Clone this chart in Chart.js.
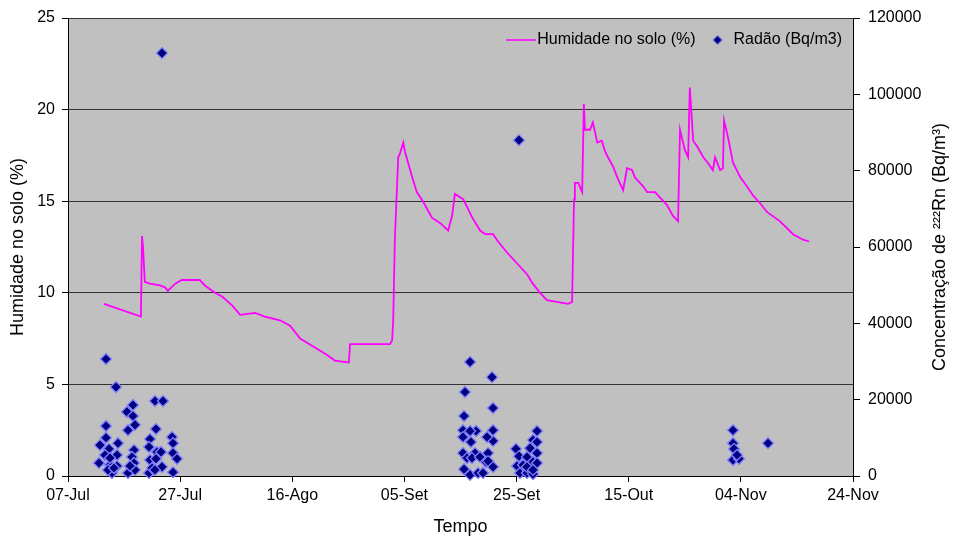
<!DOCTYPE html>
<html>
<head>
<meta charset="utf-8">
<script src="https://cdn.jsdelivr.net/npm/chart.js@4.4.1/dist/chart.umd.min.js"></script>
<style>
  html, body { margin: 0; padding: 0; background: #ffffff; }
  #wrap { width: 953px; height: 540px; }
</style>
</head>
<body>
<div id="wrap"><canvas id="c" width="953" height="540"></canvas></div>
<script>
// X tick labels (every 20 days starting 07-Jul)
const xTickLabels = ['07-Jul', '27-Jul', '16-Ago', '05-Set', '25-Set', '15-Out', '04-Nov', '24-Nov'];

// Soil humidity (%) — days since 07-Jul
const humDays = [6.4, 13.0, 13.2, 13.4, 13.7, 14.6, 16.4, 17.3, 17.8, 19.1, 20.3, 23.5, 24.4, 26.2, 27.5, 29.3, 30.7, 33.4, 35.1, 37.8, 39.6, 41.4, 44.1, 46.2, 47.6, 49.9, 50.1, 50.3, 53.9, 57.4, 57.8, 58.0, 58.3, 58.9, 59.2, 59.8, 60.1, 61.4, 62.2, 63.3, 64.9, 66.4, 67.8, 68.5, 69.0, 70.5, 72.1, 73.5, 74.4, 75.8, 76.7, 78.3, 80.1, 81.9, 82.9, 84.2, 85.4, 87.2, 89.2, 89.9, 90.25, 90.4, 91.0, 91.7, 92.0, 92.2, 93.1, 93.6, 94.4, 95.2, 95.8, 96.3, 97.2, 98.1, 99.0, 99.7, 100.6, 101.1, 102.6, 103.3, 104.7, 105.6, 106.8, 107.9, 108.8, 109.15, 110.0, 110.6, 110.9, 111.5, 112.2, 113.3, 114.1, 115.0, 115.4, 116.3, 116.8, 117.0, 117.7, 118.6, 119.9, 121.1, 122.2, 123.4, 124.7, 127.0, 129.3, 131.1, 132.2];
const humValues = [9.4, 8.7, 13.1, 12.4, 10.6, 10.5, 10.4, 10.3, 10.1, 10.5, 10.7, 10.7, 10.4, 10.0, 9.8, 9.3, 8.8, 8.9, 8.7, 8.5, 8.2, 7.5, 7.0, 6.6, 6.3, 6.2, 6.2, 7.2, 7.2, 7.2, 7.4, 8.5, 13.0, 17.4, 17.6, 18.2, 17.7, 16.3, 15.5, 15.0, 14.1, 13.8, 13.4, 14.2, 15.4, 15.1, 14.1, 13.4, 13.2, 13.2, 12.8, 12.2, 11.6, 11.0, 10.5, 10.0, 9.6, 9.5, 9.4, 9.5, 15.1, 16.0, 16.0, 15.5, 20.3, 18.9, 18.9, 19.3, 18.2, 18.3, 17.7, 17.4, 16.9, 16.2, 15.6, 16.8, 16.7, 16.3, 15.8, 15.5, 15.5, 15.2, 14.8, 14.2, 13.9, 18.9, 17.8, 17.4, 21.2, 18.3, 18.0, 17.4, 17.1, 16.7, 17.4, 16.7, 16.8, 19.4, 18.5, 17.1, 16.3, 15.8, 15.3, 14.9, 14.4, 13.9, 13.2, 12.9, 12.8];

// Radon (Bq/m3) — days since 07-Jul
const radonDays = [6.78, 8.56, 11.59, 10.52, 11.59, 11.95, 10.70, 6.78, 15.52, 16.94, 15.69, 6.78, 5.71, 7.31, 8.92, 6.60, 8.74, 5.53, 7.49, 8.74, 7.85, 11.77, 11.41, 11.77, 10.70, 11.95, 14.62, 14.45, 15.87, 16.59, 14.62, 15.69, 16.76, 14.45, 18.55, 18.73, 18.73, 19.44, 18.73, 7.13, 8.2, 15.0, 15.5, 11.06, 7.49, 16.76,
  71.70, 75.62, 70.80, 75.80, 70.63, 75.80, 75.80, 74.73, 72.77, 70.45, 71.70, 70.45, 71.87, 70.45, 72.59, 74.91, 71.16, 72.05, 73.48, 74.55, 70.63, 71.70, 73.13, 74.02, 75.80, 74.91, 80.43, 79.90, 80.43, 80.08, 80.61, 81.86, 82.93, 83.65, 82.93, 83.65, 82.40, 83.65, 81.86, 82.93, 83.65, 81.15, 81.86, 82.93,
  118.60, 118.60, 118.78, 118.60, 119.67, 119.31, 124.84];
const radonValues = [30650, 23300, 18600, 16800, 15700, 13400, 12000, 13100, 19650, 19650, 12300, 10000, 8100, 7100, 8600, 5500, 5500, 3400, 2900, 2600, 800, 6800, 5000, 3400, 800, 1600, 9700, 7600, 6300, 6300, 4200, 4500, 2400, 800, 10200, 8600, 6000, 4500, 1000, 1600, 2100, 2100, 1600, 2600, 4700, 110800,
  29900, 25900, 22000, 17800, 15700, 12000, 9200, 10200, 11800, 12000, 11800, 10200, 8900, 6000, 6000, 6000, 4700, 4700, 5000, 3700, 1800, 300, 800, 800, 2400, 3900, 88000, 7100, 5200, 2600, 800, 800, 500, 11800, 9400, 8900, 7300, 6000, 5000, 3700, 3400, 2900, 2400, 1600,
  12000, 8600, 7100, 4200, 4500, 5500, 8600];

const humPoints = humDays.map((d, i) => ({ x: d, y: humValues[i] }));
const radonPoints = radonDays.map((d, i) => ({ x: d, y: radonValues[i] }));

const FONT = "'Liberation Sans', Arial, sans-serif";
const MAGENTA = '#FF00FF';
const NAVY = '#000080';
const DIAMOND_EDGE = '#8080FF';

// Legend icons
const lineIcon = document.createElement('canvas');
lineIcon.width = 30; lineIcon.height = 4;
(function () {
  const g = lineIcon.getContext('2d');
  g.strokeStyle = MAGENTA; g.lineWidth = 1.5;
  g.beginPath(); g.moveTo(0, 2); g.lineTo(30, 2); g.stroke();
})();
const diamondIcon = document.createElement('canvas');
diamondIcon.width = 11; diamondIcon.height = 11;
(function () {
  const g = diamondIcon.getContext('2d');
  g.fillStyle = NAVY; g.strokeStyle = DIAMOND_EDGE; g.lineWidth = 1;
  g.beginPath(); g.moveTo(5.5, 1); g.lineTo(10, 5.5); g.lineTo(5.5, 10); g.lineTo(1, 5.5); g.closePath();
  g.fill(); g.stroke();
})();

const plotBg = {
  id: 'plotBg',
  beforeDraw(chart) {
    const { ctx, chartArea: a } = chart;
    ctx.save();
    ctx.fillStyle = '#C0C0C0';
    ctx.fillRect(a.left, a.top, a.right - a.left, a.bottom - a.top);
    ctx.restore();
  }
};

const legendInside = {
  id: 'legendInside',
  beforeUpdate(chart) {
    const lg = chart.legend;
    if (lg && !lg._patched) {
      const orig = lg.fit;
      lg.fit = function () { orig.call(this); this.height = 0; };
      lg._patched = true;
    }
  },
  afterLayout(chart) {
    const lg = chart.legend, a = chart.chartArea;
    if (!lg) return;
    lg.left = a.left;
    lg.right = a.right + 3;
    lg.top = a.top;
    lg.bottom = a.top + 60;
  }
};

const rightTitle = {
  id: 'rightTitle',
  afterDraw(chart) {
    const { ctx, chartArea: a } = chart;
    ctx.save();
    ctx.font = '18px ' + FONT;
    ctx.fillStyle = '#000';
    ctx.textAlign = 'center';
    ctx.textBaseline = 'middle';
    ctx.translate(940, (a.top + a.bottom) / 2);
    ctx.rotate(-Math.PI / 2);
    ctx.fillText('Concentração de ²²²Rn (Bq/m³)', 0, 0);
    ctx.restore();
  }
};

new Chart(document.getElementById('c'), {
  data: {
    datasets: [
      {
        type: 'line',
        label: 'Humidade no solo (%)',
        data: humPoints,
        yAxisID: 'y',
        borderColor: MAGENTA,
        backgroundColor: MAGENTA,
        borderWidth: 1.8,
        pointRadius: 0,
        tension: 0,
        fill: false
      },
      {
        type: 'scatter',
        label: 'Radão (Bq/m3)',
        data: radonPoints,
        yAxisID: 'y2',
        pointStyle: 'rectRot',
        pointRadius: 5.5,
        backgroundColor: NAVY,
        borderColor: DIAMOND_EDGE,
        borderWidth: 1.3,
        clip: false
      }
    ]
  },
  options: {
    responsive: false,
    animation: false,
    events: [],
    layout: { padding: { top: 18, left: 0, right: 0, bottom: 0 } },
    plugins: {
      tooltip: { enabled: false },
      legend: {
        position: 'top',
        align: 'end',
        labels: {
          usePointStyle: true,
          padding: 14,
          color: '#000',
          font: { family: FONT, size: 16 },
          sort: (a, b) => a.datasetIndex - b.datasetIndex,
          generateLabels(chart) {
            const items = Chart.defaults.plugins.legend.labels.generateLabels(chart);
            items.forEach(it => {
              it.rotation = 0;
              it.pointStyle = it.datasetIndex === 0 ? lineIcon : diamondIcon;
            });
            return items;
          }
        }
      }
    },
    scales: {
      x: {
        type: 'linear',
        min: 0, max: 140,
        afterFit(s) { s.height = 64; },
        border: { display: true, color: '#000', width: 1 },
        grid: { drawOnChartArea: false, drawTicks: true, tickLength: 6, tickColor: '#000' },
        ticks: {
          stepSize: 20, autoSkip: false, maxRotation: 0, padding: 4,
          color: '#000', font: { family: FONT, size: 16 },
          callback: (v) => xTickLabels[Math.round(v / 20)] || ''
        },
        title: { display: true, text: 'Tempo', color: '#000', font: { family: FONT, size: 18 }, padding: { top: 0, bottom: 2 } }
      },
      y: {
        type: 'linear',
        position: 'left',
        min: 0, max: 25,
        afterFit(s) { s.width = 68; },
        border: { display: true, color: '#000', width: 1 },
        grid: { drawOnChartArea: true, color: '#333333', lineWidth: 1, drawTicks: true, tickLength: 6, tickColor: '#000' },
        ticks: { stepSize: 5, padding: 7, color: '#000', font: { family: FONT, size: 16 } },
        title: { display: true, text: 'Humidade no solo (%)', color: '#000', font: { family: FONT, size: 18 }, padding: { top: 7, bottom: 0 } }
      },
      y2: {
        type: 'linear',
        position: 'right',
        min: 0, max: 120000,
        afterFit(s) { s.width = 100; },
        border: { display: true, color: '#000', width: 1 },
        grid: { drawOnChartArea: false, drawTicks: true, tickLength: 7, tickColor: '#000' },
        ticks: { stepSize: 20000, padding: 8, color: '#000', font: { family: FONT, size: 16 }, callback: (v) => String(v) },
        title: { display: false }
      }
    }
  },
  plugins: [plotBg, legendInside, rightTitle]
});
</script>
</body>
</html>
